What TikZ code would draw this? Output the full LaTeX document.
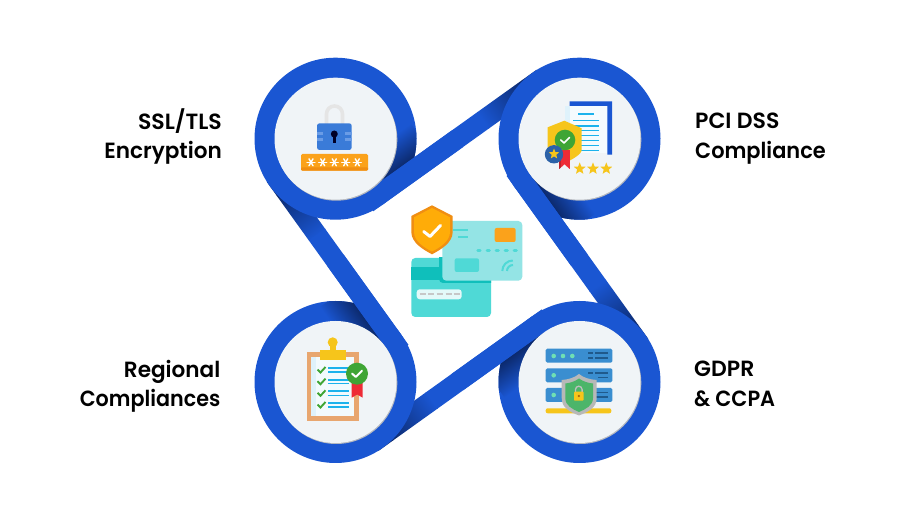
\documentclass[tikz,border=0pt]{standalone}
\usepackage{graphicx}
\usepackage{fontspec}
\setmainfont{Poppins}[UprightFont=* SemiBold]
\usetikzlibrary{shapes.geometric,calc}
\definecolor{beltblue}{HTML}{1A56D2}
\definecolor{beltdark}{HTML}{0C2A6E}
\definecolor{discface}{HTML}{F0F4F7}
\definecolor{discedge}{HTML}{B4B8C0}
\definecolor{gold}{HTML}{F6C51B}
\definecolor{okgreen}{HTML}{3FA535}
\definecolor{ribbon}{HTML}{EE2B36}
\definecolor{paper}{HTML}{DFF2FB}
\definecolor{cyanline}{HTML}{1CB2EC}
\definecolor{lockblue}{HTML}{3A7BD8}
\definecolor{locklight}{HTML}{6A9CE6}
\definecolor{amber}{HTML}{FBA21B}
\definecolor{amberdark}{HTML}{F08E12}
\definecolor{shieldamber}{HTML}{FFAC08}
\definecolor{tan}{HTML}{E8A66F}
\definecolor{srv}{HTML}{3A8ED0}
\definecolor{srvdark}{HTML}{1F5A8C}
\definecolor{srvdot}{HTML}{6FE0B4}
\definecolor{sealblue}{HTML}{2C62A8}
\definecolor{shieldgreen}{HTML}{4CB56A}
\definecolor{tealA}{HTML}{4FD9D6}
\definecolor{tealB}{HTML}{0FBFBB}
\definecolor{tealC}{HTML}{94E4E5}
\tikzset{
  x=1pt,y=-1pt,
  label text/.style={font=\fontsize{22}{29.5}\selectfont,inner sep=0pt,text depth=0pt},
  check line/.style={draw=white,line width=1.6pt,line cap=round,line join=round},
  gold star/.style={star,star points=5,star point ratio=2.3,fill=gold,draw=none,inner sep=0pt,minimum size=12.5pt},
  belt solid/.style={line width=20pt,draw=beltblue,line cap=butt},
  pin/.style={draw=white,line width=1.4pt,line cap=round},
}
% shaded end of a belt: tangent point, canvas angle; goes from dark to blue
\newcommand{\beltshade}[3]{%
  \shade[transform canvas={shift={(#1,#2)},rotate=#3},left color=beltdark,right color=beltblue]
     (12,-10) rectangle (68,10);
  \fill[transform canvas={shift={(#1,#2)},rotate=#3},beltblue] (67,-10) rectangle (210,10);
  \fill[transform canvas={shift={(#1,#2)},rotate=#3},beltdark] (-5,-10) rectangle (13,10);
}
% darkening of a ring beside the belt lying on it
\newcommand{\ringshade}[5]{% ring cx, cy, inner tangent x, y, angle
  \begin{scope}
  \clip (#1,#2) circle[radius=81];
  \shade[transform canvas={shift={(#3,#4)},rotate=#5},top color=beltblue,bottom color=beltdark]
     (0,-30) rectangle (70,0);
  \end{scope}
}
\newcommand{\asterisk}[2]{%
  \foreach \a in {0,60,120}{\draw[pin] ($(#1,#2)+(\a:4)$) -- ($(#1,#2)+(\a+180:4)$);}
}
\begin{document}
\begin{tikzpicture}
\useasboundingbox (0,0) rectangle (914,521);
\fill[white] (0,0) rectangle (914,521);

% anchor points of rings
\coordinate (cTL) at (335.5,138.7);
\coordinate (cTR) at (579.5,138.7);
\coordinate (cBL) at (335.5,382);
\coordinate (cBR) at (579.5,382);
\coordinate (tAa) at (376.8,196.5);
\coordinate (tBa) at (521.8,180.1);
\coordinate (tCa) at (538.2,324.2);
\coordinate (tDa) at (393.2,340.6);
\coordinate (mA) at (457.5,138.7);
\coordinate (mB) at (579.5,260.35);
\coordinate (mC) at (457.5,382);
\coordinate (mD) at (335.5,260.35);

% belts, running under the next ring, dark where they go under
\beltshade{538.2}{80.9}{-144.4}
\beltshade{637.2}{340.6}{125.7}
\beltshade{376.8}{439.8}{35.6}
\beltshade{277.8}{180.1}{-54.3}

% rings
\foreach \c in {cTL,cTR,cBL,cBR}{\fill[beltblue] (\c) circle[radius=81];}

% ring darkening beside belts
\ringshade{335.5}{138.7}{371}{188.3}{35.6}
\ringshade{579.5}{138.7}{530}{174.3}{-54.3}
\ringshade{579.5}{382}{544}{332.4}{215.6}
\ringshade{335.5}{382}{385}{346.4}{125.7}

% belts' upper ends, merged into the ring
\draw[belt solid] (tAa) -- (mA);
\draw[belt solid] (tBa) -- (mB);
\draw[belt solid] (tCa) -- (mC);
\draw[belt solid] (tDa) -- (mD);

% discs
\foreach \c in {cTL,cTR,cBL,cBR}{
  \fill[discedge] ($(\c)+(0.8,1)$) circle[radius=61];
  \fill[discface] (\c) circle[radius=61];
}

% labels
\node[label text,align=right,anchor=east] (lab1) at (222,133.5) {SSL/TLS\\\scalebox{0.98}[1]{Encryption}};
\node[label text,align=left,anchor=west] (lab2) at (695,135.5) {PCI DSS\\\scalebox{0.95}[1]{Compliance}};
\node[label text,align=right,anchor=east] (lab3) at (220.5,383.5) {\scalebox{0.98}[1]{Regional}\\\scalebox{0.94}[1]{Compliances}};
\node[label text,align=left,anchor=west] (lab4) at (694,383.5) {GDPR\\\scalebox{0.95}[1]{\& CCPA}};

% ---- lock icon
\draw[draw=black!10,line width=3.6pt] (326.5,124) -- (326.5,114) arc[start angle=180,end angle=360,radius=8] -- (342.5,124);
\fill[lockblue,rounded corners=2.5pt] (317,123.3) rectangle (351.7,150);
\fill[locklight] (317,131.7) rectangle (323.3,135);
\fill[locklight] (317,138.3) rectangle (323.3,141);
\fill[locklight] (345.4,131.7) rectangle (351.7,135);
\fill[locklight] (345.4,138.3) rectangle (351.7,141);
\fill[black!85!blue] (334.3,134) circle[radius=3.5];
\fill[black!85!blue] (333,134) rectangle (335.6,142.7);
\fill[amber,rounded corners=1.5pt] (301,154) rectangle (368,170.7);
\fill[amberdark,rounded corners=1pt] (301,167.5) rectangle (368,170.7);
\foreach \px in {311,322.7,334.3,345.7,357.3}{\asterisk{\px}{162.3}}

% ---- PCI icon
\fill[beltblue] (569.7,101.3) -- (612,101.3) -- (612,154.7) -- (607.3,154.7) -- (607.3,106) -- (569.7,106) -- cycle;
\fill[paper] (565,106) rectangle (607.3,152.7);
\fill[white!70!paper] (570,106) rectangle (607.3,152.7);
\foreach \ya/\xa/\xb in {114/578.3/594,120.7/573.3/599,126/573.3/599,130.7/573.3/599,135.7/573.3/599,140.7/573.3/599,145.7/573.3/599,150.7/573.3/599}{
  \draw[cyanline,line width=1.5pt] (\xa,\ya-0.2) -- (\xb,\ya-0.2);
}
\fill[paper] (565,145.7) rectangle (580,152.7);
\fill[gold] (564.3,120.7) -- (581.7,128.3) -- (581.7,150) .. controls (581.7,154) and (572,160) .. (564.3,163) .. controls (556,160) and (547.7,152) .. (547.7,147) -- (547.7,127.3) -- cycle;
\fill[ribbon] (558.7,150) rectangle (570.3,169.3);
\fill[ribbon!80!black] (558.7,150) rectangle (561,169.3);
\fill[discface] (558.7,169.7) -- (564.5,164.5) -- (570.3,169.7) -- cycle;
\fill[okgreen] (565,140) circle[radius=10.3];
\draw[check line] (560.8,140) -- (564,143) -- (569.5,137.5);
\fill[sealblue] (554,154.3) circle[radius=9.2];
\node[gold star,minimum size=11pt] (st0) at (554,154) {};
\node[gold star] (st1) at (579.7,168.7) {};
\node[gold star] (st2) at (593,168.7) {};
\node[gold star] (st3) at (606.3,168.7) {};

% ---- clipboard icon
\fill[tan] (306.7,352.3) rectangle (359,420.7);
\fill[paper] (311.3,357.3) rectangle (354.3,416);
\fill[white!60!paper] (316,357.3) rectangle (354.3,416);
\fill[gold] (329.7,342) rectangle (335.7,352);
\fill[gold] (332.7,342.3) circle[radius=5];
\fill[gold] (320,350) rectangle (346,360);
\foreach \ya in {370,381.7,393.3,405}{
  \draw[okgreen,line width=1.9pt,line cap=butt,line join=miter] (317.5,\ya-0.5) -- (320.5,\ya+2.5) -- (325.5,\ya-3);
}
\foreach \ya in {368,372,379.7,383.5,391.3,395.5,403,407}{
  \draw[cyanline,line width=1.7pt] (328,\ya) -- (348.5,\ya);
}
\fill[ribbon] (351.7,380) -- (362.7,380) -- (362.7,397.7) -- (357.2,394.5) -- (351.7,397.7) -- cycle;
\fill[okgreen] (357,373.7) circle[radius=11];
\draw[check line,line width=2pt] (352,373.5) -- (355.8,377) -- (362,370.7);

% ---- server icon
\foreach \ya in {348.7,368.3,388}{
  \fill[srv,rounded corners=1.5pt] (545.7,\ya) rectangle (612.3,\ya+14);
}
\foreach \ax/\ay in {553.7/356,563/356,572.3/356,553.7/375.3,553.7/395}{
  \fill[srvdot] (\ax,\ay) circle[radius=2.3];
}
\foreach \xa/\xb/\ya in {588.3/592.7/353,595.3/607.7/353,588.3/592.7/358,595.3/607.7/358,588.3/592.7/373,595.3/607.7/373,598.3/607.7/377.7,595.3/607.7/392.7,595.3/607.7/397}{
  \draw[srvdark,line width=1.6pt] (\xa,\ya) -- (\xb,\ya);
}
\fill[gold,rounded corners=2pt] (545.7,408.3) rectangle (611.3,413.3);
\fill[black!28] (579,374) .. controls (584,378) and (590,379.5) .. (596.7,380) -- (596.7,398) .. controls (596.7,408) and (588,412) .. (579,415.5) .. controls (570,412) and (561.7,408) .. (561.7,398) -- (561.7,380) .. controls (568,379.5) and (574,378) .. (579,374) -- cycle;
\fill[shieldgreen] (579,378.5) .. controls (583,381.5) and (588,383) .. (593,383.5) -- (593,398) .. controls (593,405.5) and (586,409) .. (579,412) .. controls (572,409) and (565.3,405.5) .. (565.3,398) -- (565.3,383.5) .. controls (570,383) and (575,381.5) .. (579,378.5) -- cycle;
\draw[black!25,line width=1.3pt] (575.5,392) -- (575.5,389.5) arc[start angle=180,end angle=360,radius=3.3] -- (582.1,392);
\fill[gold,rounded corners=0.8pt] (574,391.7) rectangle (583.5,400.7);
\fill[amberdark!70!black] (578.8,396) circle[radius=1.2];

% ---- centre icon
\fill[tealA,rounded corners=4pt] (411.3,258) rectangle (491,317);
\fill[tealB] (411.3,266.7) rectangle (491,280);
\fill[white!85!tealA,rounded corners=3pt] (416.7,289.3) rectangle (461.7,299.3);
\foreach \ax in {419.5,428,436.7,445.5,453.5}{
  \draw[black!22,line width=2pt] (\ax,294.3) -- (\ax+6,294.3);
}
\begin{scope}
  \clip (411.3,258) rectangle (491,317);
  \fill[tealB,rounded corners=4pt] (439,221) rectangle (519,283);
\end{scope}
\fill[tealC,rounded corners=4pt] (442.3,221) rectangle (522.3,280.7);
\fill[amber,rounded corners=2pt] (494.7,228) rectangle (515.7,242);
\fill[tealA,rounded corners=2pt] (454.7,258.3) rectangle (479,272);
\foreach \ax in {477.7,487,496,505,514}{
  \draw[tealA,line width=2.6pt,line cap=round] (\ax,250.7) -- (\ax+2.5,250.7);
}
\draw[tealA,line width=2.2pt] (453,230) -- (468,230);
\draw[tealA,line width=2.2pt] (458,237) -- (468,237);
\draw[tealA,line width=2pt] (502.3,271) arc[start angle=180,end angle=270,radius=10.5];
\draw[tealA,line width=2pt] (507,271) arc[start angle=180,end angle=270,radius=6];
\fill[amberdark] (432,205.3) -- (452.7,216) -- (452.7,232) .. controls (452.7,243) and (440,250) .. (432,254.3) .. controls (424,250) and (411.3,243) .. (411.3,232) -- (411.3,216) -- cycle;
\fill[shieldamber] (432,208) -- (450,217.3) -- (450,232) .. controls (450,241.5) and (439,248) .. (432,251.5) .. controls (425,248) and (414,241.5) .. (414,232) -- (414,217.3) -- cycle;
\draw[white,line width=3pt,line cap=round,line join=round] (423.7,231.5) -- (430,236.5) -- (440.5,225.5);
\end{tikzpicture}
\end{document}
